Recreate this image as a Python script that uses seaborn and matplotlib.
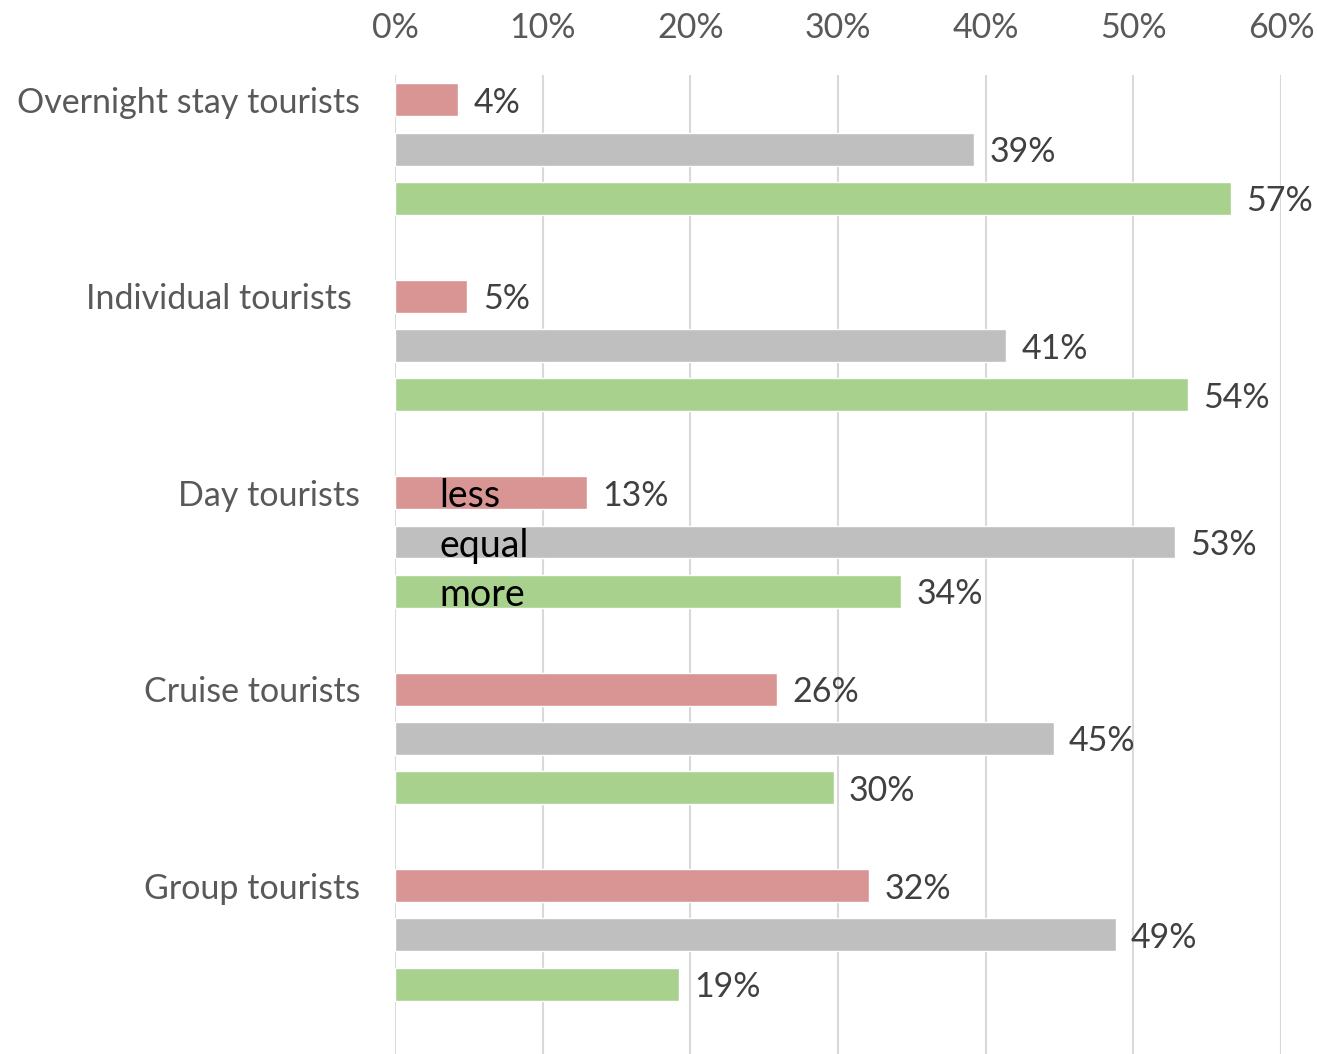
import matplotlib
matplotlib.use("Agg")
import matplotlib.pyplot as plt
import seaborn as sns
import pandas as pd

categories = ["Overnight stay tourists", "Individual tourists ", "Day tourists",
              "Cruise tourists", "Group tourists"]
groups = ["less", "equal", "more"]
less_vals = [4.3, 4.9, 13.0, 25.9, 32.1]
equal_vals = [39.2, 41.4, 52.8, 44.6, 48.8]
more_vals = [56.6, 53.7, 34.3, 29.7, 19.2]
colors = ["#D99594", "#BFBFBF", "#A9D18E"]
xticks = [0, 10, 20, 30, 40, 50, 60]

rows = []
for g, vals in zip(groups, [less_vals, equal_vals, more_vals]):
    for c, v in zip(categories, vals):
        rows.append({"category": c, "group": g, "value": v})
df = pd.DataFrame(rows)

sns.set_theme(style="white")
plt.rcParams["font.family"] = ["Lato", "DejaVu Sans"]

fig = plt.figure(figsize=(13.17, 10.54), dpi=100)
ax = fig.add_axes([395 / 1317, 0.0, (1281 - 395) / 1317, 1 - 75 / 1054])

sns.barplot(data=df, y="category", x="value", hue="group", order=categories,
            hue_order=groups, palette=colors, orient="y", width=0.75, gap=0.33,
            legend=False, saturation=1, ax=ax, errorbar=None)

ax.set_xlim(0, 60)
ax.set_ylim(4.606, -0.377)
ax.set_xticks(xticks)
ax.set_xticklabels([f"{t}%" for t in xticks])
ax.xaxis.tick_top()
ax.tick_params(axis="x", length=0, pad=22, labelsize=24.5, labelcolor="#595959")
ax.tick_params(axis="y", length=0, pad=25, labelsize=24.5, labelcolor="#595959")
ax.grid(axis="x", color="#D9D9D9", linewidth=1.5)
ax.set_axisbelow(True)
for s in ax.spines.values():
    s.set_visible(False)
ax.set_xlabel("")
ax.set_ylabel("")

# category labels aligned with the first (less) bar of each group
red_centers = [p.get_y() + p.get_height() / 2 for p in ax.containers[0].patches]
ax.set_yticks(red_centers)
ax.set_yticklabels(categories)

for cont, vals in zip(ax.containers, [less_vals, equal_vals, more_vals]):
    texts = ax.bar_label(cont, labels=[f"{v:.0f}%" for v in vals], padding=11,
                         fontsize=24.5, color="#404040")
    for t in texts:
        t.set_va("center_baseline")

# inline legend inside the Day tourists bars
day_idx = categories.index("Day tourists")
for cont, g in zip(ax.containers, groups):
    p = cont.patches[day_idx]
    ax.text(3.0, p.get_y() + p.get_height() / 2, g, fontsize=27, color="black",
            va="center_baseline", ha="left")

fig.savefig("out.png", dpi=100)
